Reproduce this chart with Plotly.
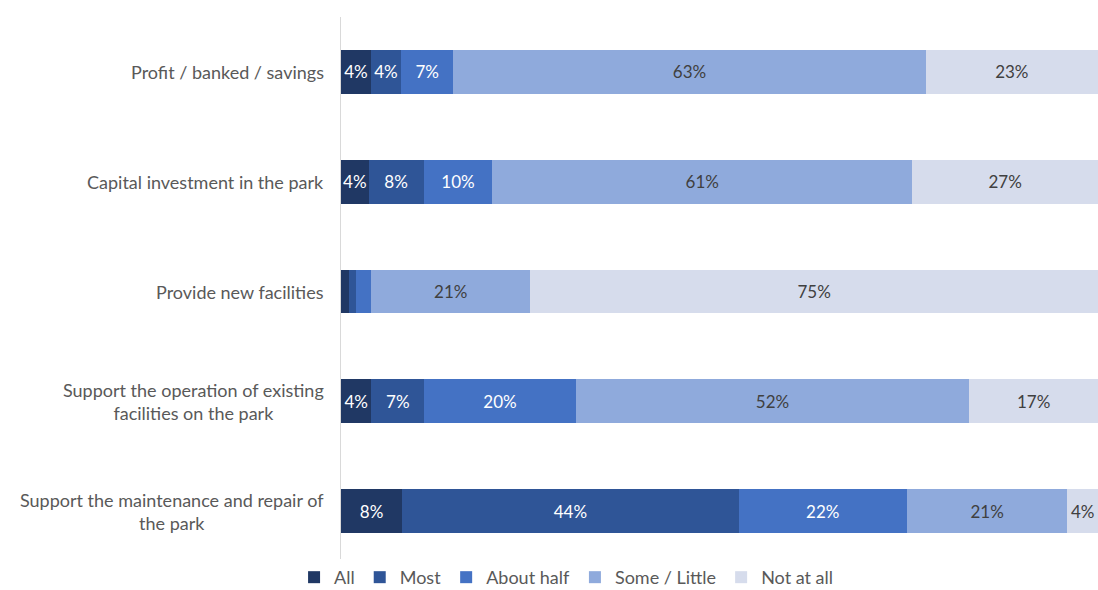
import plotly.graph_objects as go

categories = [
    "Profit / banked / savings",
    "Capital investment in the park",
    "Provide new facilities",
    "Support the operation of existing<br>facilities on the park",
    "Support the maintenance and repair of<br>the park",
]
series_names = ["All", "Most", "About half", "Some / Little", "Not at all"]
v_all = [4, 4, 1, 4, 8]
v_most = [4, 8, 1, 7, 44]
v_half = [7, 10, 2, 20, 22]
v_some = [63, 61, 21, 52, 21]
v_not = [23, 27, 75, 17, 4]
show_label = [
    [True, True, False, True, True],
    [True, True, False, True, True],
    [True, True, False, True, True],
    [True, True, True, True, True],
    [True, True, True, True, True],
]
colors = ["#203864", "#2F5597", "#4472C4", "#8FAADC", "#D6DCEC"]
text_colors = ["white", "white", "white", "#404040", "#404040"]

FONT = "Lato"
fig = go.Figure()
for i, (name, vals) in enumerate(zip(series_names, [v_all, v_most, v_half, v_some, v_not])):
    texts = [f"{v}%" if show_label[i][j] else "" for j, v in enumerate(vals)]
    fig.add_trace(go.Bar(
        name=name, y=categories, x=vals, orientation="h",
        marker=dict(color=colors[i], line=dict(width=0)),
        text=texts, textposition="inside", insidetextanchor="middle", textangle=0,
        textfont=dict(color=text_colors[i], size=17, family=FONT),
        hoverinfo="skip",
    ))

for c in categories:
    fig.add_annotation(x=0, xref="paper", y=c, yref="y", text=c, showarrow=False,
                       xanchor="right", xshift=-15, align="center",
                       font=dict(size=18, color="#595959", family=FONT))

fig.update_layout(
    barmode="stack", barnorm="percent", bargap=0.6,
    width=1098, height=590,
    margin=dict(l=341, r=0, t=17, b=24, autoexpand=False),
    plot_bgcolor="white", paper_bgcolor="white",
    uniformtext=dict(minsize=17, mode="show"),
    font=dict(family=FONT, color="#595959", size=18),
    xaxis=dict(range=[0, 100], showgrid=False, showticklabels=False, zeroline=False,
               showline=False, fixedrange=True),
    yaxis=dict(autorange="reversed", showticklabels=False, showgrid=False,
               showline=True, linecolor="#D9D9D9", linewidth=1, ticks=""),
    legend=dict(orientation="h", x=-0.062, xanchor="left", y=-0.0546, yanchor="bottom",
                font=dict(size=18, color="#595959", family=FONT),
                itemwidth=30, traceorder="normal"),
    showlegend=True,
)
fig.write_html("out.html", config={"displayModeBar": False},
               post_script="document.body.style.margin='0';document.body.style.overflow='hidden';")
